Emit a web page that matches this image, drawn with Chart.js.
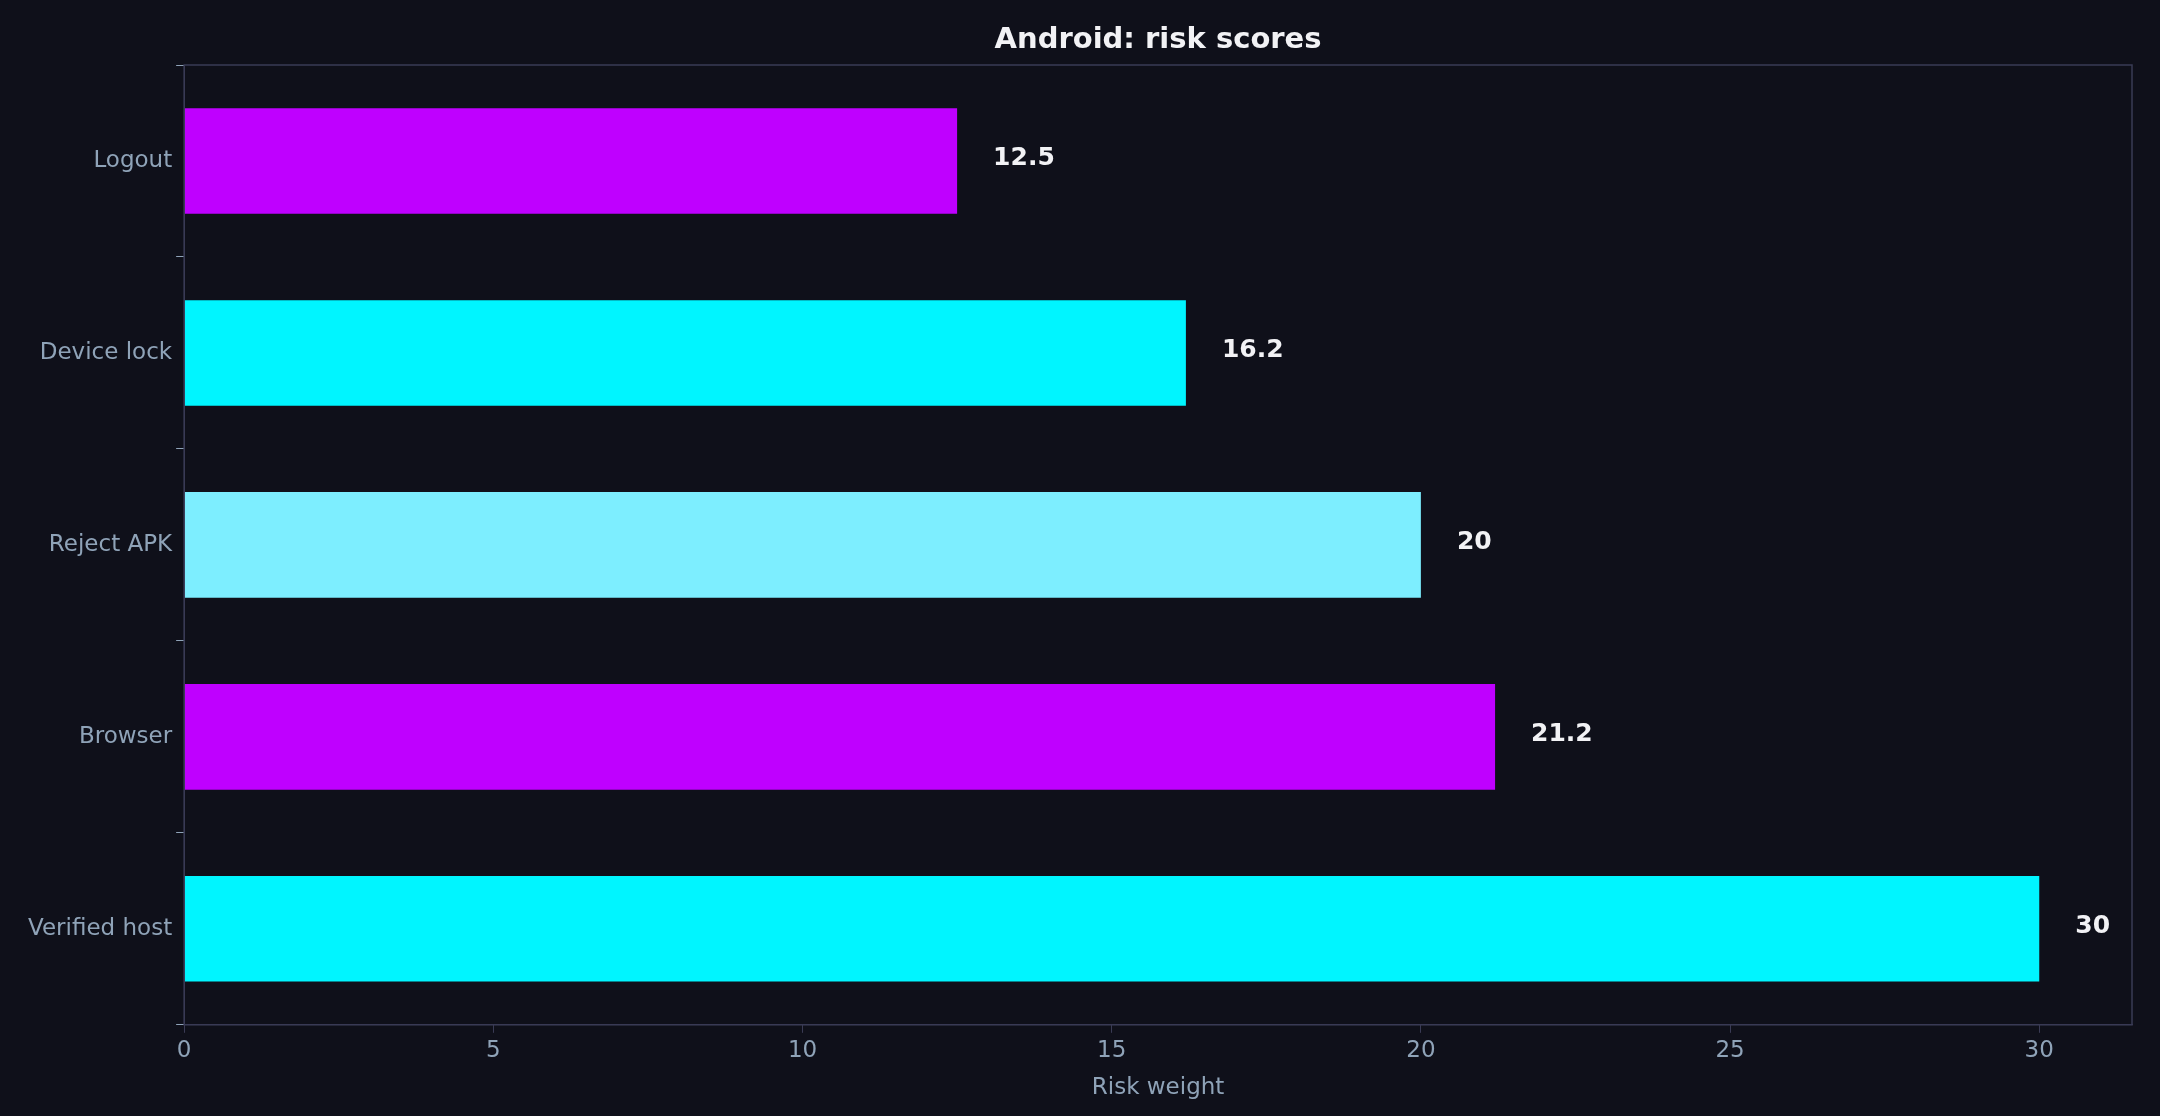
<!DOCTYPE html>
<html>
<head>
<meta charset="utf-8">
<script src="https://cdn.jsdelivr.net/npm/chart.js@4"></script>
<style>
  html, body { margin: 0; padding: 0; background: #0f101a; }
  #wrap { width: 2160px; height: 1116px; }
</style>
</head>
<body>
<div id="wrap"><canvas id="chart"></canvas></div>
<script>
// データ（上から順）
const categories = ['Logout', 'Device lock', 'Reject APK', 'Browser', 'Verified host'];
const scores = [12.5, 16.2, 20, 21.2, 30];
const barColors = ['#bf00ff', '#00f5ff', '#7deeff', '#bf00ff', '#00f5ff'];
const xTicks = [0, 5, 10, 15, 20, 25, 30];

const tickColor = '#8fa3b8';
const frameColor = '#3a3b55';

// 枠線とタイトル、値ラベルを描く
const decorPlugin = {
    id: 'decor',
    afterDatasetsDraw(chart) {
        const ctx = chart.ctx;
        const a = chart.chartArea;
        ctx.save();
        ctx.strokeStyle = frameColor;
        ctx.lineWidth = 1.5;
        ctx.strokeRect(a.left, a.top, a.right - a.left, a.bottom - a.top);

        ctx.fillStyle = '#f2f2f5';
        ctx.font = 'bold 29px "DejaVu Sans"';
        ctx.textAlign = 'center';
        ctx.textBaseline = 'middle';
        ctx.fillText('Android: risk scores', (a.left + a.right) / 2, 40);

        ctx.font = 'bold 25px "DejaVu Sans"';
        ctx.textAlign = 'left';
        chart.getDatasetMeta(0).data.forEach(function (bar, i) {
            ctx.fillText(String(scores[i]), bar.x + 36, bar.y - 2);
        });
        ctx.restore();
    }
};

const ctx = document.getElementById('chart').getContext('2d');
const chart = new Chart(ctx, {
    type: 'bar',
    data: {
        labels: categories,
        datasets: [{
            data: scores,
            backgroundColor: barColors,
            borderWidth: 0,
            barPercentage: 0.55,
            categoryPercentage: 1.0
        }]
    },
    options: {
        indexAxis: 'y',
        responsive: true,
        maintainAspectRatio: false,
        animation: false,
        layout: { padding: { top: 65, right: 28, left: 24, bottom: 10 } },
        plugins: {
            legend: { display: false },
            title: { display: false },
            tooltip: { enabled: false }
        },
        scales: {
            x: {
                min: 0,
                max: 31.5,
                afterBuildTicks: function (axis) {
                    axis.ticks = xTicks.map(v => ({ value: v }));
                },
                grid: { display: true, drawOnChartArea: false, color: frameColor, tickLength: 8 },
                border: { color: frameColor },
                ticks: { color: tickColor, font: { size: 23, family: 'DejaVu Sans' }, padding: 4 },
                title: {
                    display: true,
                    text: 'Risk weight',
                    color: tickColor,
                    font: { size: 23, family: 'DejaVu Sans' },
                    padding: { top: 6 }
                }
            },
            y: {
                grid: { display: true, drawOnChartArea: false, color: tickColor, tickLength: 8 },
                border: { color: frameColor },
                ticks: { color: tickColor, font: { size: 23, family: 'DejaVu Sans' }, padding: 4 }
            }
        }
    },
    plugins: [decorPlugin]
});
</script>
</body>
</html>
